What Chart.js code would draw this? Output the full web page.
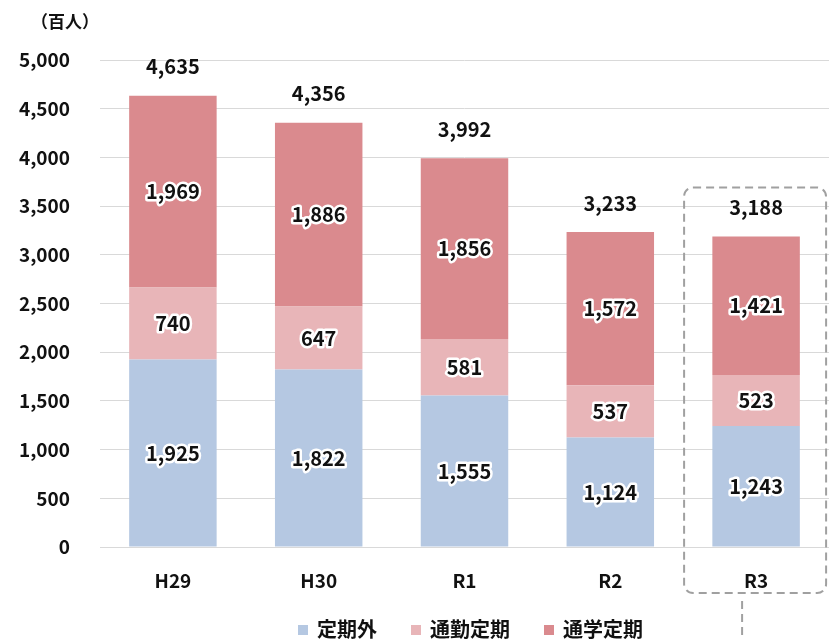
<!DOCTYPE html>
<html lang="ja">
<head>
<meta charset="utf-8">
<script src="https://cdn.jsdelivr.net/npm/chart.js@4"></script>
<style>
  html, body { margin: 0; padding: 0; background: #fff; }
  #wrap { width: 829px; height: 639px; }
</style>
</head>
<body>
<div id="wrap"><canvas id="ridershipChart" width="829" height="639"></canvas></div>
<script>
// 定期外 / 通勤定期 / 通学定期 (百人)
const categories = ['H29', 'H30', 'R1', 'R2', 'R3'];
const teikigai = [1925, 1822, 1555, 1124, 1243];
const tsukinTeiki = [740, 647, 581, 537, 523];
const tsugakuTeiki = [1969, 1886, 1856, 1572, 1421];
const totals = [4635, 4356, 3992, 3233, 3188];
const seriesNames = ['定期外', '通勤定期', '通学定期'];
const yTicks = [0, 500, 1000, 1500, 2000, 2500, 3000, 3500, 4000, 4500, 5000];

const FONT = "'Noto Sans CJK JP', 'Noto Sans', sans-serif";
const fmt = v => v.toLocaleString('en-US');

// labels inside segments, totals on top, unit text, legend and the dashed box round R3
const annotate = {
  id: 'annotate',
  afterDatasetsDraw(chart) {
    const ctx = chart.ctx;
    const x = chart.scales.x, y = chart.scales.y;
    ctx.save();
    ctx.textAlign = 'center';
    ctx.textBaseline = 'middle';
    ctx.font = 'bold 20px ' + FONT;
    ctx.lineJoin = 'round';
    chart.data.datasets.forEach((ds, i) => {
      chart.getDatasetMeta(i).data.forEach((bar, j) => {
        const cy = (bar.y + bar.base) / 2;
        ctx.lineWidth = 5;
        ctx.strokeStyle = '#fff';
        ctx.strokeText(fmt(ds.data[j]), bar.x, cy);
        ctx.fillStyle = '#111';
        ctx.fillText(fmt(ds.data[j]), bar.x, cy);
      });
    });
    totals.forEach((t, j) => {
      ctx.fillStyle = '#111';
      ctx.fillText(fmt(t), x.getPixelForValue(j), y.getPixelForValue(t) - 29);
    });

    ctx.font = 'bold 17px ' + FONT;
    ctx.textAlign = 'left';
    ctx.fillText('（百人）', 31, 22);

    // legend, drawn by hand to match the spacing of the original
    ctx.font = 'bold 20px ' + FONT;
    const gap = 34, box = 10, boxGap = 9;
    const widths = chart.data.datasets.map(ds => box + boxGap + ctx.measureText(ds.label).width);
    const total = widths.reduce((a, b) => a + b, 0) + gap * (widths.length - 1);
    let lx = (chart.chartArea.left + chart.chartArea.right) / 2 + 6 - total / 2;
    const ly = 629;
    chart.data.datasets.forEach((ds, i) => {
      ctx.fillStyle = ds.backgroundColor;
      ctx.fillRect(lx, ly - box / 2 + 1, box, box);
      ctx.fillStyle = '#111';
      ctx.fillText(ds.label, lx + box + boxGap, ly);
      lx += widths[i] + gap;
    });

    // dashed frame on the latest year
    const cx = x.getPixelForValue(4);
    const left = cx - 72, right = cx + 70;
    const top = y.getPixelForValue(totals[4]) - 49, bottom = 593;
    ctx.strokeStyle = '#a0a0a0';
    ctx.lineWidth = 2;
    ctx.setLineDash([8, 5]);
    ctx.beginPath();
    ctx.roundRect(left, top, right - left, bottom - top, 9);
    ctx.stroke();
    ctx.beginPath();
    ctx.moveTo(cx - 14, bottom + 8);
    ctx.lineTo(cx - 14, 639);
    ctx.stroke();
    ctx.restore();
  }
};

new Chart(document.getElementById('ridershipChart'), {
  type: 'bar',
  data: {
    labels: categories,
    datasets: [
      { label: seriesNames[0], data: teikigai, backgroundColor: '#b5c8e2' },
      { label: seriesNames[1], data: tsukinTeiki, backgroundColor: '#e8b5b8' },
      { label: seriesNames[2], data: tsugakuTeiki, backgroundColor: '#da8a8e' }
    ]
  },
  options: {
    responsive: false,
    animation: false,
    devicePixelRatio: 1,
    layout: { padding: { top: 60, right: 0, left: 0, bottom: 0 } },
    datasets: { bar: { barPercentage: 0.6, categoryPercentage: 1 } },
    plugins: {
      legend: { display: false },
      tooltip: { enabled: false }
    },
    scales: {
      x: {
        stacked: true,
        grid: { display: false },
        border: { color: '#d9d9d9' },
        ticks: { color: '#111', padding: 14, font: { family: FONT, size: 19, weight: 'bold' } },
        afterFit: s => { s.height = 92; }
      },
      y: {
        stacked: true,
        min: 0,
        max: 5000,
        afterBuildTicks: s => { s.ticks = yTicks.map(v => ({ value: v })); },
        grid: { color: '#d9d9d9', drawTicks: false },
        border: { display: false },
        ticks: {
          color: '#111',
          padding: 30,
          font: { family: FONT, size: 19, weight: 'bold' },
          callback: v => fmt(v)
        },
        afterFit: s => { s.width = 100; }
      }
    }
  },
  plugins: [annotate]
});
</script>
</body>
</html>
